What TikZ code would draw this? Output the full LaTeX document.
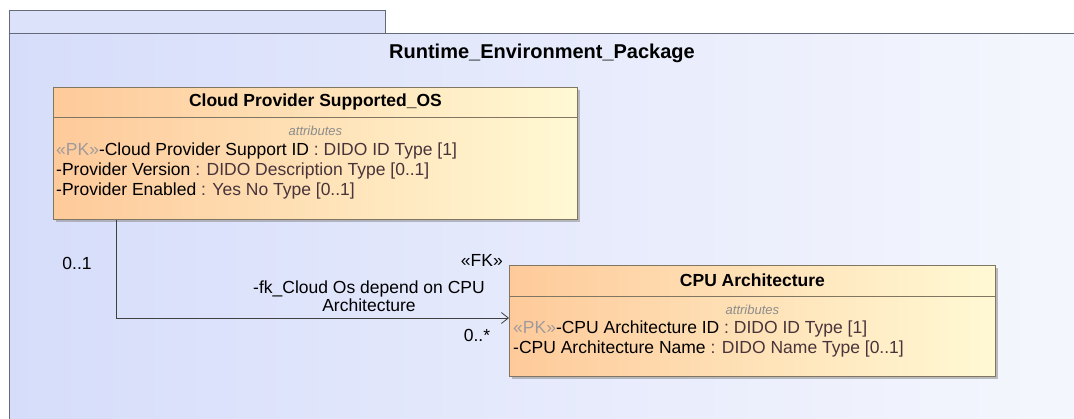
\documentclass[tikz,border=0pt]{standalone}
\usepackage{fontspec}
\setmainfont{Liberation Sans}
\usepackage{tikz}
\usetikzlibrary{positioning,arrows.meta,calc,shadows}

\definecolor{pkgfill}{RGB}{214,221,250}
\definecolor{pkgfillr}{RGB}{244,246,253}
\definecolor{pkgtab}{RGB}{220,226,250}
\definecolor{pkgline}{RGB}{100,106,122}
\definecolor{clsleft}{RGB}{254,202,154}
\definecolor{clsright}{RGB}{255,249,212}
\definecolor{clsline}{RGB}{128,118,98}
\definecolor{stereo}{RGB}{160,155,155}
\definecolor{typecol}{RGB}{72,52,58}
\definecolor{attrgray}{RGB}{140,140,140}

\begin{document}
\begin{tikzpicture}[
  x=1pt, y=-1pt,
  font=\fontsize{17.5}{20}\selectfont,
  pkg/.style={inner sep=0pt, anchor=north west},
  pkgedge/.style={draw=pkgline, line width=0.8pt},
  pkgname/.style={font=\fontsize{20}{22}\selectfont\bfseries},
  cls/.style={draw=clsline, line width=0.8pt, left color=clsleft, right color=clsright,
              anchor=north west, inner sep=0pt,
              drop shadow={shadow xshift=3pt, shadow yshift=-3pt, fill=black!45, opacity=.55}},
  clstitle/.style={font=\fontsize{17.5}{20}\selectfont\bfseries},
  attrhead/.style={font=\fontsize{13}{15}\selectfont\itshape, text=attrgray},
  attr/.style={anchor=west, inner sep=0pt},
  mult/.style={inner sep=0pt},
  assoc/.style={draw=black!75, line width=0.8pt, -{Straight Barb[length=7pt,width=11pt]}},
]
\useasboundingbox (0,0) rectangle (1074,418);
\fill[white] (-6,-6) rectangle (1082,426);

% package frame (runs on past the right and lower edge)
\fill[pkgfillr] (9,33) rectangle (1082,426);
\node[pkg, left color=pkgfill, right color=pkgfillr, minimum width=1030pt, minimum height=393pt] (pkg) at (9,33) {};
\node[pkg, pkgedge, fill=pkgtab, minimum width=376pt, minimum height=23pt] (tab) at (9,10) {};
\draw[pkgedge] (pkg.south west) -- (pkg.north west) -- ++(1073,0);
\node[pkgname] (pkgtitle) at (542,53) {Runtime\_Environment\_Package};

% class Cloud Provider Supported_OS
\node[cls, minimum width=524pt, minimum height=132pt] (cloud) at (53,87) {};
\draw[clsline, line width=0.8pt] ($(cloud.north west)+(0,30)$) -- ($(cloud.north east)+(0,30)$);
\node[clstitle] (cloudname) at ($(cloud.north)+(0,15)$) {Cloud Provider Supported\_OS};
\node[attrhead] (cloudattr) at ($(cloud.north)+(0,44)$) {attributes};
\node[attr] (cloud1) at ($(cloud.north west)+(3,64)$) {{\color{stereo}«PK»}-Cloud Provider Support ID {\color{typecol}: DIDO ID Type [1]}};
\node[attr] (cloud2) at ($(cloud.north west)+(3,84)$) {-Provider Version {\color{typecol}: DIDO Description Type [0..1]}};
\node[attr] (cloud3) at ($(cloud.north west)+(3,104)$) {-Provider Enabled {\color{typecol}: Yes No Type [0..1]}};

% class CPU Architecture
\node[cls, minimum width=486pt, minimum height=111pt] (cpu) at (509,265) {};
\draw[clsline, line width=0.8pt] ($(cpu.north west)+(0,31)$) -- ($(cpu.north east)+(0,31)$);
\node[clstitle] (cpuname) at ($(cpu.north)+(0,15)$) {CPU Architecture};
\node[attrhead] (cpuattr) at ($(cpu.north)+(0,45)$) {attributes};
\node[attr] (cpu1) at ($(cpu.north west)+(4,64)$) {{\color{stereo}«PK»}-CPU Architecture ID {\color{typecol}: DIDO ID Type [1]}};
\node[attr] (cpu2) at ($(cpu.north west)+(4,84)$) {-CPU Architecture Name {\color{typecol}: DIDO Name Type [0..1]}};

% association
\coordinate (bend) at (116,318);
\draw[assoc] (cloud.south -| bend) |- (cpu.west |- bend);
\node[mult] (m1) at (77,263) {0..1};
\node[mult] (m2) at (477,335) {0..*};
\node[mult, anchor=east] (fk) at (503,260) {«FK»};
\node[align=center, inner sep=0pt, font=\fontsize{17.5}{18}\selectfont] (role) at (369,296) {-fk\_Cloud Os depend on CPU\\Architecture};
\end{tikzpicture}
\end{document}
